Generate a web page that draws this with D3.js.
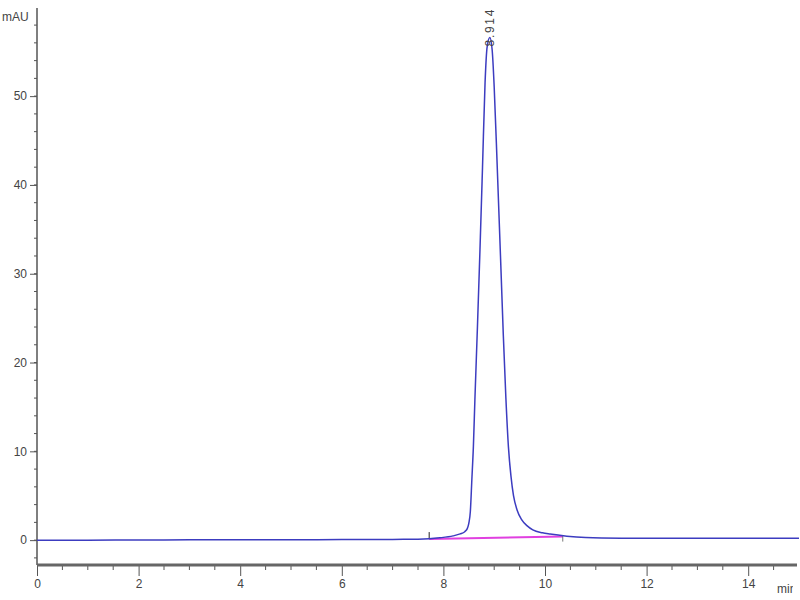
<!DOCTYPE html>
<html><head><meta charset="utf-8">
<script src="https://cdn.jsdelivr.net/npm/d3@7"></script>
<style>body{margin:0;background:#fff}svg{display:block;font-family:Arial,"Liberation Sans",sans-serif}</style>
</head><body><svg id="c" width="800" height="600"></svg>
<script>
// Signal trace (min, mAU)
const times = [0,1,2,3,4,5,6,7,7.5,7.72,7.93,8.19,8.33,8.42,8.47,8.5,8.53,8.56,8.59,8.62,8.67,8.72,8.77,8.82,8.86,8.914,8.96,9.0,9.06,9.13,9.18,9.23,9.28,9.33,9.38,9.45,9.54,9.65,9.76,9.95,10.1,10.43,10.8,11.5,12.5,14,15];
const values = [0,0,0.02,0.03,0.05,0.05,0.06,0.08,0.1,0.15,0.26,0.48,0.7,0.95,1.3,1.9,3.2,6.8,10.5,15.8,24,32.7,42,51.5,55.5,56.6,55.2,51,42,31,23,16,10.5,7.2,5.0,3.4,2.3,1.6,1.15,0.82,0.68,0.45,0.3,0.22,0.2,0.2,0.22];
// Integration baseline
const baseTimes = [7.72,10.35];
const baseValues = [0.12,0.4];
const peakLabel = "8.914";
const peakTime = 8.914, peakValue = 56.6;
const xTicks = [0,2,4,6,8,10,12,14];
const yTicks = [0,10,20,30,40,50];

const svg = d3.select("#c");
const x = d3.scaleLinear().domain([0,15]).range([37,799]);
const y = d3.scaleLinear().domain([-2.8,59.7]).range([565,10]);
const axisCol = "#555";

// y axis
const yMinor = d3.range(-2,60,2);
svg.append("g").selectAll("line").data(yMinor).join("line")
  .attr("x1",34).attr("x2",37).attr("y1",d=>y(d)).attr("y2",d=>y(d))
  .attr("stroke",axisCol).attr("stroke-width",1);
svg.append("g").attr("transform","translate(37,0)")
  .call(d3.axisLeft(y).tickValues(yTicks).tickSize(7).tickPadding(3).tickFormat(d3.format("d")))
  .call(g=>g.select(".domain").remove())
  .call(g=>g.selectAll("line").attr("stroke",axisCol))
  .call(g=>g.selectAll("text").attr("fill","#444").attr("font-size",12).attr("font-family","Arial, 'Liberation Sans', sans-serif"));
svg.append("line").attr("x1",37).attr("x2",37).attr("y1",8).attr("y2",565)
  .attr("stroke",axisCol).attr("stroke-width",1.5);
svg.append("text").attr("x",2).attr("y",21).text("mAU").attr("fill","#444").attr("font-size",12);

// x axis
const xMinor = d3.range(0.5,15,0.5).filter(d=>d%2!==0);
svg.append("g").selectAll("line").data(xMinor).join("line")
  .attr("x1",d=>x(d)).attr("x2",d=>x(d)).attr("y1",565).attr("y2",570)
  .attr("stroke",axisCol).attr("stroke-width",1);
svg.append("g").attr("transform","translate(0,565)")
  .call(d3.axisBottom(x).tickValues(xTicks).tickSize(11).tickPadding(3).tickFormat(d3.format("d")))
  .call(g=>g.select(".domain").remove())
  .call(g=>g.selectAll("line").attr("stroke",axisCol))
  .call(g=>g.selectAll("text").attr("fill","#444").attr("font-size",12).attr("font-family","Arial, 'Liberation Sans', sans-serif"));
svg.append("line").attr("x1",37).attr("x2",797).attr("y1",565).attr("y2",565)
  .attr("stroke","#666").attr("stroke-width",3);
svg.append("clipPath").attr("id","clipmin").append("rect").attr("x",760).attr("y",570).attr("width",33).attr("height",30);
svg.append("text").attr("x",777).attr("y",593).text("min").attr("fill","#444").attr("font-size",12)
  .attr("clip-path","url(#clipmin)");

// baseline
svg.append("line").attr("x1",x(baseTimes[0])).attr("x2",x(baseTimes[1]))
  .attr("y1",y(baseValues[0])).attr("y2",y(baseValues[1]))
  .attr("stroke","#e040e0").attr("stroke-width",2);
svg.append("line").attr("x1",x(baseTimes[0])).attr("x2",x(baseTimes[0]))
  .attr("y1",y(baseValues[0])-7).attr("y2",y(baseValues[0])).attr("stroke","#222").attr("stroke-width",1);
svg.append("line").attr("x1",x(baseTimes[1])).attr("x2",x(baseTimes[1]))
  .attr("y1",y(baseValues[1])-1).attr("y2",y(baseValues[1])+5).attr("stroke","#777").attr("stroke-width",1);

// trace
const pts = times.map((t,i)=>[t,values[i]]);
svg.append("path").datum(pts)
  .attr("d",d3.line().x(d=>x(d[0])).y(d=>y(d[1])).curve(d3.curveMonotoneX))
  .attr("fill","none").attr("stroke","#3c3cc0").attr("stroke-width",1.5);

// peak label
svg.append("text")
  .attr("transform",`translate(${x(peakTime)+4.5},${y(peakValue)+9}) rotate(-90)`)
  .attr("font-size",12).attr("fill","#444")
  .attr("textLength",37).attr("lengthAdjust","spacing")
  .text(peakLabel);
</script></body></html>
